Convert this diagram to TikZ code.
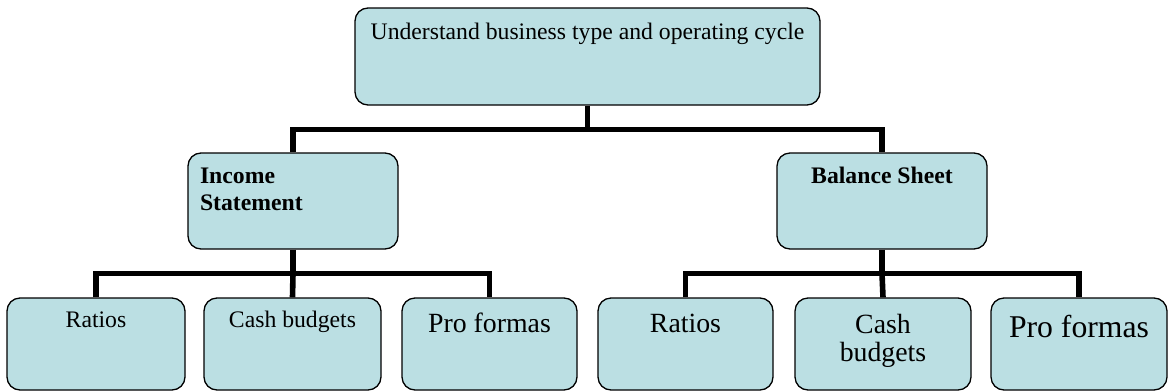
\documentclass[tikz,border=0pt]{standalone}
\usepackage{fontspec}
\setmainfont{Liberation Serif}
\usetikzlibrary{positioning}

\definecolor{boxfill}{RGB}{187,223,227}
% box text: [alignment]{box width}{box height}{top to first baseline}{text}
\newcommand{\boxtext}[5][\centering]{%
  \parbox[c][#3pt][t]{\dimexpr#2pt-24pt\relax}{#1\rule{0pt}{#4pt}#5}}

\begin{document}
\begin{tikzpicture}[
  x=1pt, y=-1pt,
  box/.style={draw=black, fill=boxfill, rounded corners=13pt, line width=1.3pt,
              inner xsep=12pt, inner ysep=0pt, font=\fontsize{23.7}{27.5}\selectfont},
  bigbox/.style={box, font=\fontsize{27.8}{28.5}\selectfont},
  hugebox/.style={box, font=\fontsize{31.7}{34}\selectfont},
  link/.style={line width=5.6pt, black},
]
\useasboundingbox (0,0) rectangle (1169,391);

% ---- top ----
\node[box] (top) at (587.5,56.5) {\boxtext{465}{97}{31}{Understand business type and operating cycle}};

% ---- two statements ----
\node[box] (inc) at (293,201) {\boxtext[\raggedright]{210}{96}{30}{\bfseries Income\\Statement}};
\node[box] (bal) at (882,201) {\boxtext{210}{96}{30}{\bfseries Balance Sheet}};

% ---- tools under each statement ----
\node[box]     (lrat)  at (96,344)    {\boxtext{178}{92}{29}{Ratios}};
\node[box]     (lcash) at (292.5,344) {\boxtext{177}{92}{29}{Cash budgets}};
\node[bigbox]  (lpro)  at (489.5,344) {\boxtext{175}{92}{34}{Pro formas}};
\node[bigbox]  (rrat)  at (685.5,344) {\boxtext{175}{92}{34}{Ratios}};
\node[bigbox]  (rcash) at (883,344)   {\boxtext{176}{92}{35}{Cash\\budgets}};
\node[hugebox] (rpro)  at (1079,344)  {\boxtext{176}{92}{39}{Pro formas}};

% ---- connectors ----
\draw[link] (top.south) -- ++(0,24) coordinate (topbar);
\draw[link] (inc.north) |- (topbar) -| (bal.north);

\draw[link] (inc.south) -- ++(0,24) coordinate (incbar);
\draw[link] (lrat.north) |- (incbar) -| (lpro.north);
\draw[link] (incbar) -- (lcash.north);

\draw[link] (bal.south) -- ++(0,24) coordinate (balbar);
\draw[link] (rrat.north) |- (balbar) -| (rpro.north);
\draw[link] (balbar) -- (rcash.north);
\end{tikzpicture}
\end{document}
